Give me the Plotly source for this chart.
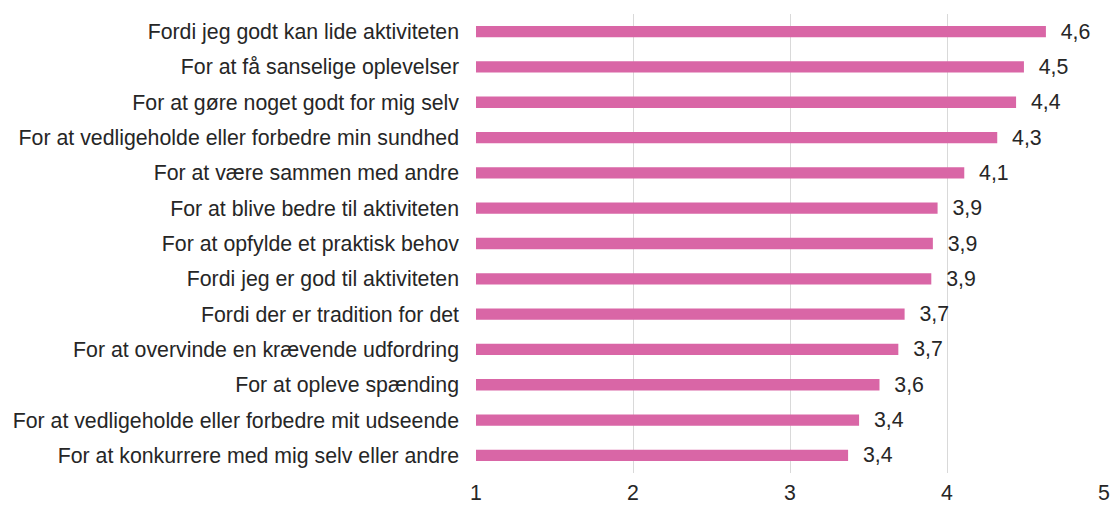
import plotly.graph_objects as go

categories = [
    "Fordi jeg godt kan lide aktiviteten",
    "For at få sanselige oplevelser",
    "For at gøre noget godt for mig selv",
    "For at vedligeholde eller forbedre min sundhed",
    "For at være sammen med andre",
    "For at blive bedre til aktiviteten",
    "For at opfylde et praktisk behov",
    "Fordi jeg er god til aktiviteten",
    "Fordi der er tradition for det",
    "For at overvinde en krævende udfordring",
    "For at opleve spænding",
    "For at vedligeholde eller forbedre mit udseende",
    "For at konkurrere med mig selv eller andre",
]
values = [4.63, 4.49, 4.44, 4.32, 4.11, 3.94, 3.91, 3.90, 3.73, 3.69, 3.57, 3.44, 3.37]
tick_values = [1, 2, 3, 4, 5]
tick_labels = ["1", "2", "3", "4", "5"]

labels = ["  " + f"{v:.1f}".replace(".", ",") for v in values]

FONT = "Liberation Sans, Arial, sans-serif"
SIZE = 21.3
COLOR = "#262626"

fig = go.Figure(
    go.Bar(
        x=values,
        y=categories,
        orientation="h",
        marker=dict(color="#D966A6", line=dict(width=0)),
        text=labels,
        textposition="outside",
        constraintext="none",
        textfont=dict(family=FONT, size=SIZE, color=COLOR),
        cliponaxis=False,
        hoverinfo="skip",
    )
)

fig.update_layout(
    width=1112,
    height=506,
    margin=dict(l=476, r=8, t=14, b=33),
    paper_bgcolor="white",
    plot_bgcolor="white",
    bargap=0.68,
    showlegend=False,
    font=dict(family=FONT, size=SIZE, color=COLOR),
)
fig.update_xaxes(
    range=[1, 5],
    tickvals=tick_values,
    ticktext=tick_labels,
    showgrid=True,
    gridcolor="#D9D9D9",
    gridwidth=1,
    zeroline=False,
    showline=False,
    ticks="",
    automargin=False,
    tickfont=dict(family=FONT, size=SIZE, color=COLOR),
    ticklabelstandoff=5,
)
fig.update_yaxes(
    autorange="reversed",
    showgrid=False,
    showline=False,
    ticks="",
    automargin=False,
    tickfont=dict(family=FONT, size=SIZE, color=COLOR),
    ticklabelstandoff=16,
)

fig.write_html(
    "out.html",
    config={"displayModeBar": False},
    post_script="document.body.style.margin='0';document.body.style.overflow='hidden';",
)
